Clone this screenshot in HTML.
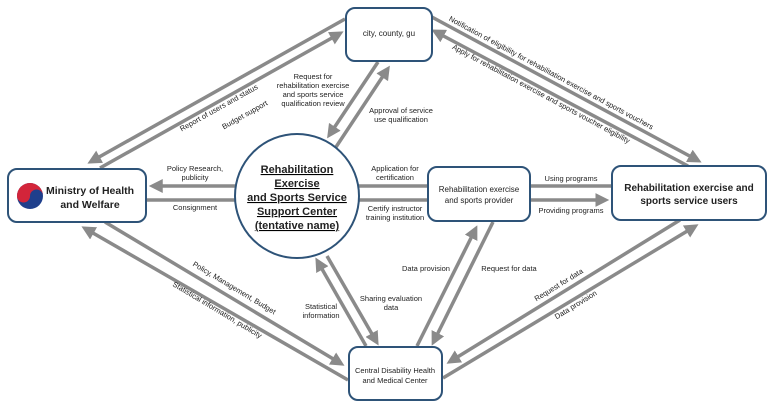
<!DOCTYPE html>
<html><head><meta charset="utf-8"><style>
body{margin:0;background:#fff}
svg text{font-family:"Liberation Sans",sans-serif;fill:#222}
</style></head><body>
<svg width="774" height="409" viewBox="0 0 774 409" xmlns="http://www.w3.org/2000/svg">
<defs>
<marker id="a" markerWidth="4" markerHeight="4" refX="2.5" refY="2" orient="auto" markerUnits="strokeWidth">
<path d="M0,0 L4,2 L0,4 z" fill="#8a8a8a"/></marker>
</defs>
<g stroke="#8a8a8a" stroke-width="3.5" fill="none">
<line x1="345" y1="19" x2="92" y2="161" marker-end="url(#a)"/>
<line x1="100" y1="168" x2="339" y2="34" marker-end="url(#a)"/>
<line x1="378" y1="62" x2="330" y2="134" marker-end="url(#a)"/>
<line x1="336" y1="147" x2="387" y2="70" marker-end="url(#a)"/>
<line x1="430" y1="16" x2="697" y2="160" marker-end="url(#a)"/>
<line x1="688" y1="166" x2="436" y2="32" marker-end="url(#a)"/>
<line x1="235" y1="186" x2="154" y2="186" marker-end="url(#a)"/>
<line x1="146" y1="200" x2="236" y2="200"/>
<line x1="358" y1="186" x2="428" y2="186"/>
<line x1="358" y1="200" x2="428" y2="200"/>
<line x1="530" y1="186" x2="612" y2="186"/>
<line x1="530" y1="200" x2="604" y2="200" marker-end="url(#a)"/>
<line x1="105" y1="222" x2="340" y2="363" marker-end="url(#a)"/>
<line x1="348" y1="380" x2="86" y2="229" marker-end="url(#a)"/>
<line x1="366" y1="346" x2="318" y2="262" marker-end="url(#a)"/>
<line x1="327" y1="256" x2="376" y2="341" marker-end="url(#a)"/>
<line x1="417" y1="346" x2="475" y2="230" marker-end="url(#a)"/>
<line x1="493" y1="222" x2="434" y2="341" marker-end="url(#a)"/>
<line x1="680" y1="220" x2="451" y2="361" marker-end="url(#a)"/>
<line x1="443" y1="378" x2="694" y2="227" marker-end="url(#a)"/>
</g>
<g fill="#fff" stroke="#2e5378" stroke-width="2">
<rect x="346" y="8" width="86" height="53" rx="9"/>
<rect x="8" y="169" width="138" height="53" rx="9"/>
<rect x="428" y="167" width="102" height="54" rx="9"/>
<rect x="612" y="166" width="154" height="54" rx="9"/>
<rect x="349" y="347" width="93" height="53" rx="9"/>
<circle cx="297" cy="196" r="62"/>
</g>
<circle cx="30" cy="196" r="13" fill="#1f3f8c"/>
<path d="M17,196 A13,13 0 0 1 43,196 A6.5,6.5 0 0 0 30,196 A6.5,6.5 0 0 1 17,196z" fill="#d3253a"/>
<text x="389" y="36" font-size="8" text-anchor="middle">city, county, gu</text>
<text x="90" y="194" font-size="10.5" font-weight="bold" text-anchor="middle">Ministry of Health</text>
<text x="90" y="208" font-size="10.5" font-weight="bold" text-anchor="middle">and Welfare</text>
<text x="479" y="192" font-size="8" text-anchor="middle">Rehabilitation exercise</text>
<text x="479" y="203" font-size="8" text-anchor="middle">and sports provider</text>
<text x="689" y="191" font-size="10" font-weight="bold" text-anchor="middle">Rehabilitation exercise and</text>
<text x="689" y="204" font-size="10" font-weight="bold" text-anchor="middle">sports service users</text>
<text x="395" y="373" font-size="7.5" text-anchor="middle">Central Disability Health</text>
<text x="395" y="383" font-size="7.5" text-anchor="middle">and Medical Center</text>
<g font-size="11" font-weight="bold" text-anchor="middle" text-decoration="underline">
<text x="297" y="173">Rehabilitation</text>
<text x="297" y="187">Exercise</text>
<text x="297" y="201">and Sports Service</text>
<text x="297" y="215">Support Center</text>
<text x="297" y="229">(tentative name)</text>
</g>
<g font-size="7.5" text-anchor="middle">
<text x="313" y="79">Request for</text>
<text x="313" y="88">rehabilitation exercise</text>
<text x="313" y="97">and sports service</text>
<text x="313" y="106">qualification review</text>
<text x="401" y="113">Approval of service</text>
<text x="401" y="122">use qualification</text>
<text x="195" y="171">Policy Research,</text>
<text x="195" y="180">publicity</text>
<text x="195" y="210">Consignment</text>
<text x="395" y="171">Application for</text>
<text x="395" y="180">certification</text>
<text x="395" y="211">Certify instructor</text>
<text x="395" y="220">training institution</text>
<text x="571" y="181">Using programs</text>
<text x="571" y="213">Providing programs</text>
<text x="321" y="309">Statistical</text>
<text x="321" y="318">information</text>
<text x="391" y="301">Sharing evaluation</text>
<text x="391" y="310">data</text>
<text x="426" y="271">Data provision</text>
<text x="509" y="271">Request for data</text>
</g>
<g font-size="7.5" text-anchor="middle">
<text transform="translate(220,110) rotate(-29.3)">Report of users and status</text>
<text transform="translate(246,117) rotate(-29.3)">Budget support</text>
<text transform="translate(550,75) rotate(28.3)">Notification of eligibility for rehabilitation exercise and sports vouchers</text>
<text transform="translate(540,96) rotate(28.3)">Apply for rehabilitation exercise and sports voucher eligibility</text>
<text transform="translate(233,290) rotate(31)">Policy, Management, Budget</text>
<text transform="translate(216,312) rotate(31)">Statistical information, publicity</text>
<text transform="translate(560,287) rotate(-31.6)">Request for data</text>
<text transform="translate(577,307) rotate(-31.6)">Data provision</text>
</g>
</svg>
</body></html>
